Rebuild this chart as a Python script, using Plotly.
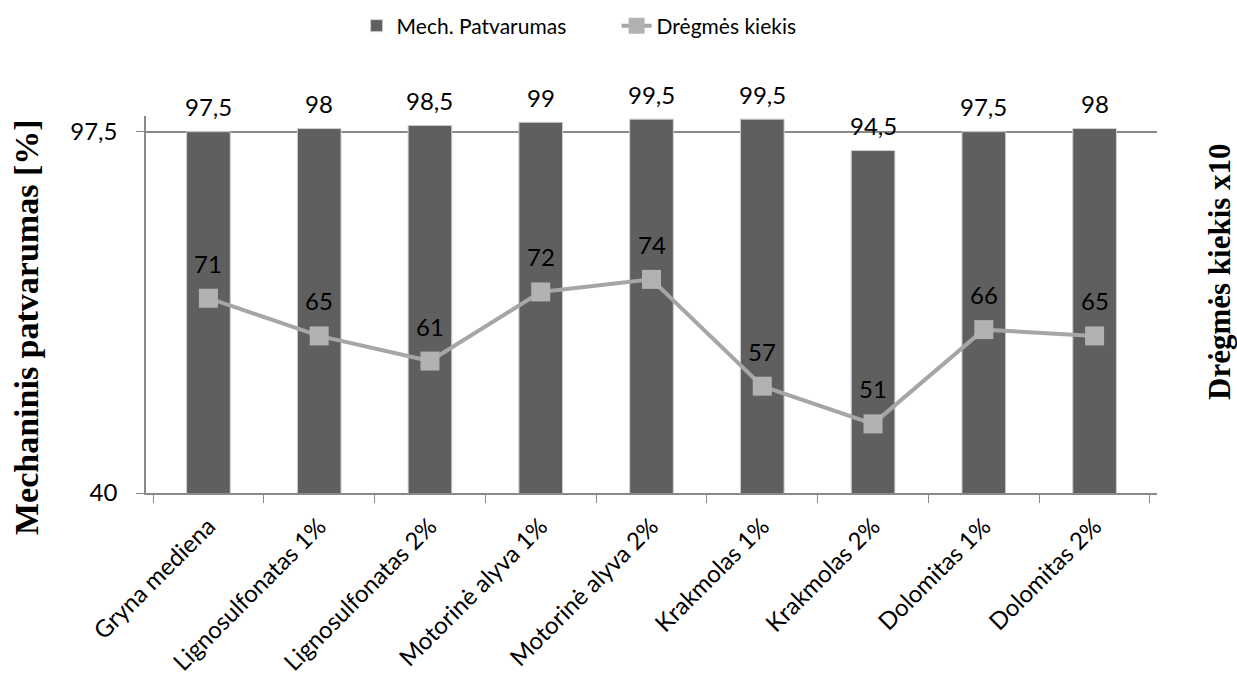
import plotly.graph_objects as go

categories = ["Gryna mediena", "Lignosulfonatas 1%", "Lignosulfonatas 2%",
              "Motorinė alyva 1%", "Motorinė alyva 2%", "Krakmolas 1%",
              "Krakmolas 2%", "Dolomitas 1%", "Dolomitas 2%"]
mech = [97.5, 98, 98.5, 99, 99.5, 99.5, 94.5, 97.5, 98]
moisture = [71, 65, 61, 72, 74, 57, 51, 66, 65]
y_ticks = [40, 97.5]
y_ticktext = ["40", "97,5"]

FONT = "Lato"
FS = 24
def fmt(v):
    return (("%g" % v).replace(".", ","))

fig = go.Figure()
fig.add_trace(go.Bar(
    x=categories, y=mech, name="Mech. Patvarumas",
    marker=dict(color="#5f5f5f", line=dict(color="#cfcfcf", width=1)),
    width=0.394,
))
fig.add_trace(go.Scatter(
    x=categories, y=moisture, name="Drėgmės kiekis", mode="lines+markers",
    line=dict(color="#a6a6a6", width=4),
    marker=dict(symbol="square", size=19, color="#b2b2b2"),
))

annotations = []
for c, v in zip(categories, mech):
    annotations.append(dict(x=c, y=v, text=fmt(v), showarrow=False, yshift=25,
                            xanchor="center", yanchor="middle",
                            font=dict(family=FONT, size=FS, color="black")))
for c, v in zip(categories, moisture):
    annotations.append(dict(x=c, y=v, text=fmt(v), showarrow=False, yshift=35,
                            xanchor="center", yanchor="middle",
                            font=dict(family=FONT, size=FS, color="black")))
annotations.append(dict(xref="paper", yref="paper", x=-0.1187, y=0.4403,
                        text="<b>Mechaninis patvarumas [%]</b>", textangle=-90,
                        showarrow=False, xanchor="center", yanchor="middle",
                        font=dict(family="Liberation Serif", size=34, color="black")))
annotations.append(dict(xref="paper", yref="paper", x=1.0623, y=0.5889,
                        text="<b>Drėgmės kiekis x10</b>", textangle=-90,
                        showarrow=False, xanchor="center", yanchor="middle",
                        font=dict(family="Liberation Serif", size=31, color="black")))

fig.update_layout(
    width=1237, height=682,
    margin=dict(l=146, r=80, t=116, b=189, autoexpand=False),
    paper_bgcolor="white", plot_bgcolor="white",
    font=dict(family=FONT, size=FS, color="black"),
    showlegend=True,
    legend=dict(orientation="h", x=0.4655, y=1.2387, xanchor="center", yanchor="middle",
                entrywidth=215, entrywidthmode="pixels",
                font=dict(family=FONT, size=21, color="black")),
    annotations=annotations,
    xaxis=dict(type="category", showline=True, linecolor="#898989", linewidth=1.5,
               ticks="outside", tickson="boundaries", ticklen=8, tickcolor="#898989",
               tickangle=-45, showgrid=False, tickfont=dict(family=FONT, size=FS),
               ticklabelstandoff=8),
    yaxis=dict(range=[40, 100], tickvals=y_ticks, ticktext=y_ticktext,
               showline=True, linecolor="#898989", linewidth=1.5,
               ticks="outside", ticklen=8, tickcolor="#898989",
               showgrid=True, gridcolor="#898989", gridwidth=1.5, zeroline=False,
               tickfont=dict(family=FONT, size=FS), ticklabelstandoff=14),
)

fig.write_html("out.html")
